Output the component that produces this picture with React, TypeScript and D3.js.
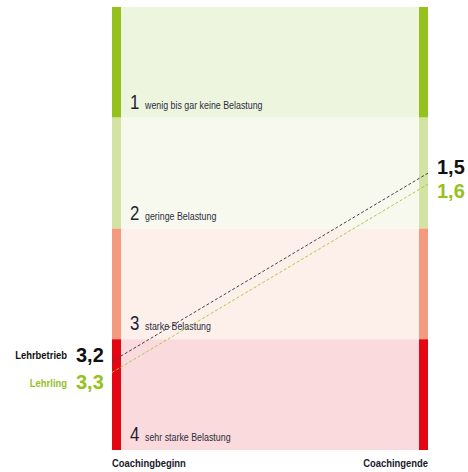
import * as d3 from "d3";

// bands: level number, label, background and bar colour
const levels = [1, 2, 3, 4];
const levelLabels = [
  "wenig bis gar keine Belastung",
  "geringe Belastung",
  "starke Belastung",
  "sehr starke Belastung",
];
const bandFills = ["#eef5df", "#f7f9ef", "#fdf0eb", "#fadadc"];
const barFills = ["#95c11f", "#d2e3a3", "#f39a7f", "#e30613"];

// series
const seriesNames = ["Lehrbetrieb", "Lehrling"];
const startValues = [3.2, 3.3];
const endValues = [1.5, 1.6];
const seriesColors = ["#111111", "#95c11f"];
const lineColors = ["#444444", "#a9cc4a"];
const phaseLabels = ["Coachingbeginn", "Coachingende"];

const W = 468;
const H = 472;
const M = { top: 7, bottom: 22, left: 112, right: 40 };
const BAR_W = 9;

const FONT = "'Liberation Sans', Arial, sans-serif";

const fmt = (v: number) => v.toFixed(1).replace(".", ",");

type CTextProps = {
  x: number;
  y: number;
  sx: number;
  size: number;
  fill: string;
  bold?: boolean;
  anchor?: "start" | "end";
  children: string | number;
};

// horizontally squeezed text, stands in for a condensed face
const CText = ({ x, y, sx, size, fill, bold, anchor = "start", children }: CTextProps) => (
  <g transform={`translate(${x},${y}) scale(${sx},1)`}>
    <text
      x={0}
      y={0}
      textAnchor={anchor}
      fontFamily={FONT}
      fontWeight={bold ? "bold" : "normal"}
      fontSize={size}
      fill={fill}
    >
      {children}
    </text>
  </g>
);

export default function App() {
  const y = d3.scaleLinear().domain([0, 4]).range([M.top, H - M.bottom]);
  const x = d3
    .scalePoint<string>()
    .domain(phaseLabels)
    .range([M.left, W - M.right]);

  const x0 = x(phaseLabels[0]) as number;
  const x1 = x(phaseLabels[1]) as number;

  return (
    <svg width={W} height={H} style={{ position: "absolute", left: 0, top: 0 }}>
      {levels.map((lv, i) => (
        <g key={lv}>
          <rect x={x0} y={y(lv - 1)} width={x1 - x0} height={y(lv) - y(lv - 1)} fill={bandFills[i]} />
          <rect x={x0} y={y(lv - 1)} width={BAR_W} height={y(lv) - y(lv - 1)} fill={barFills[i]} />
          <rect x={x1 - BAR_W} y={y(lv - 1)} width={BAR_W} height={y(lv) - y(lv - 1)} fill={barFills[i]} />
          <CText x={x0 + 18} y={y(lv) - 9} sx={0.8} size={21} fill="#1f2235">
            {lv}
          </CText>
          <CText x={x0 + 33} y={y(lv) - 9} sx={0.86} size={10.3} fill="#2a2d3e">
            {levelLabels[i]}
          </CText>
        </g>
      ))}

      {seriesNames.map((name, i) => (
        <g key={name}>
          <line
            x1={x0}
            y1={y(startValues[i])}
            x2={x1}
            y2={y(endValues[i])}
            stroke={lineColors[i]}
            strokeWidth={1}
            strokeDasharray="3,2"
          />
          <CText
            x={67}
            y={y(startValues[i]) + (i === 0 ? -2 : 14.5)}
            sx={0.82}
            size={11.5}
            bold
            anchor="end"
            fill={seriesColors[i]}
          >
            {name}
          </CText>
          <CText
            x={76}
            y={y(startValues[i]) + (i === 0 ? 0.5 : 17)}
            sx={0.95}
            size={21}
            bold
            fill={seriesColors[i]}
          >
            {fmt(startValues[i])}
          </CText>
          <CText
            x={437}
            y={y(endValues[i]) + (i === 0 ? 1 : 14)}
            sx={0.95}
            size={21}
            bold
            fill={seriesColors[i]}
          >
            {fmt(endValues[i])}
          </CText>
        </g>
      ))}

      <CText x={x0} y={467} sx={0.82} size={11.5} bold fill="#1a1a2e">
        {phaseLabels[0]}
      </CText>
      <CText x={x1} y={467} sx={0.82} size={11.5} bold anchor="end" fill="#1a1a2e">
        {phaseLabels[1]}
      </CText>
    </svg>
  );
}
